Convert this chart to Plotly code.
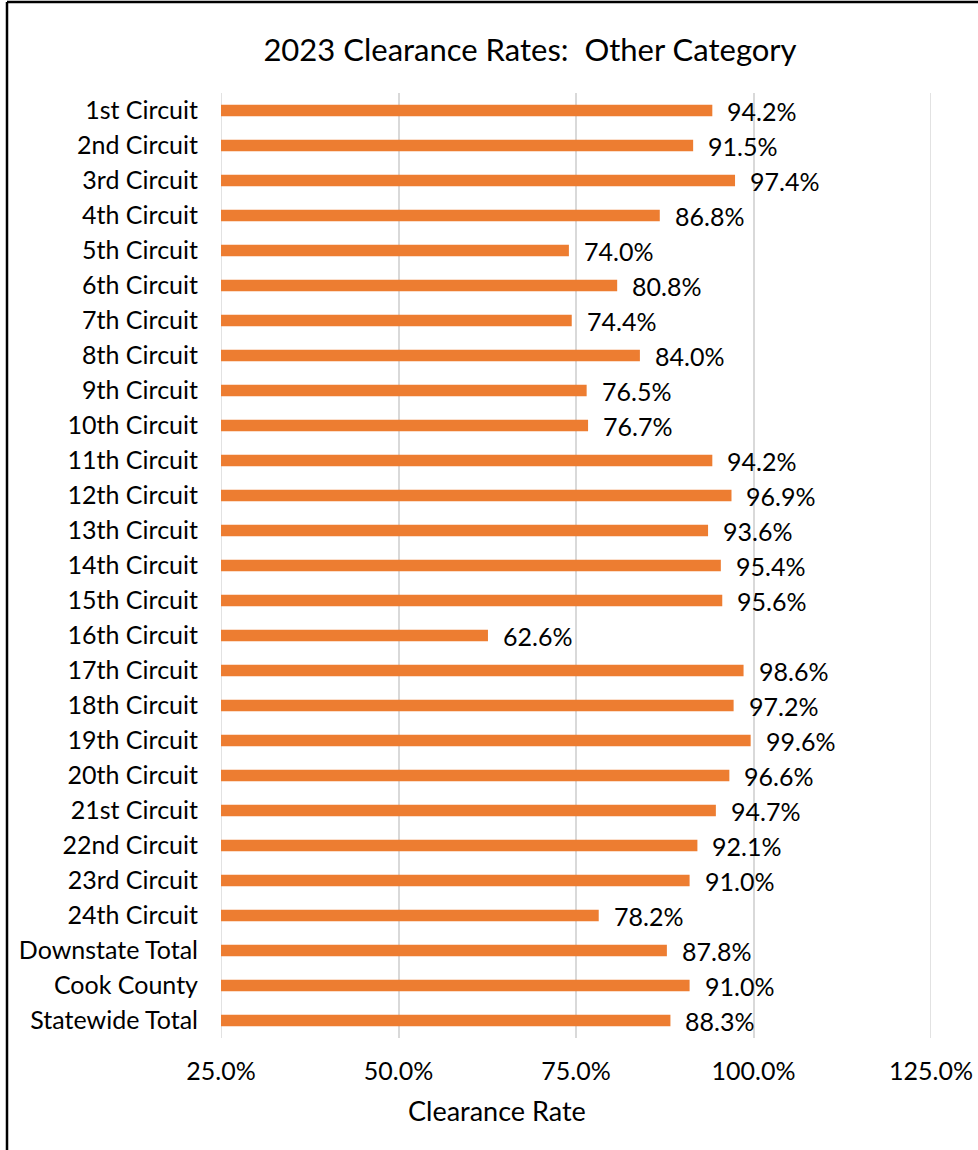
import plotly.graph_objects as go

categories = ["1st Circuit", "2nd Circuit", "3rd Circuit", "4th Circuit", "5th Circuit",
              "6th Circuit", "7th Circuit", "8th Circuit", "9th Circuit", "10th Circuit",
              "11th Circuit", "12th Circuit", "13th Circuit", "14th Circuit", "15th Circuit",
              "16th Circuit", "17th Circuit", "18th Circuit", "19th Circuit", "20th Circuit",
              "21st Circuit", "22nd Circuit", "23rd Circuit", "24th Circuit",
              "Downstate Total", "Cook County", "Statewide Total"]
rates = [94.2, 91.5, 97.4, 86.8, 74.0, 80.8, 74.4, 84.0, 76.5, 76.7,
         94.2, 96.9, 93.6, 95.4, 95.6, 62.6, 98.6, 97.2, 99.6, 96.6,
         94.7, 92.1, 91.0, 78.2, 87.8, 91.0, 88.3]
tick_vals = [25, 50, 75, 100, 125]

FONT = "Lato, 'Open Sans', sans-serif"
ORANGE = "#ED7D31"
GRID = "#D9D9D9"

fig = go.Figure()
fig.add_trace(go.Bar(
    x=rates, y=categories, orientation="h",
    marker=dict(color=ORANGE, line=dict(width=0)),
    width=0.33, hoverinfo="x+y",
))

for c, v in zip(categories, rates):
    fig.add_annotation(x=v, y=c, xref="x", yref="y", text=f"{v:.1f}%",
                       showarrow=False, xanchor="left", yanchor="middle",
                       xshift=13, yshift=0,
                       font=dict(family=FONT, size=25, color="#000000"))

# gridlines at the range ends (plotly skips them at the edges)
for t in (tick_vals[0], tick_vals[-1]):
    fig.add_shape(type="line", xref="x", yref="paper", x0=t, x1=t, y0=0, y1=1,
                  line=dict(color=GRID, width=1.5), layer="below")

L, R, T, B = 221, 47, 93, 112
W, H = 978, 1150
pw, ph = W - L - R, H - T - B

# axis title as annotation
fig.add_annotation(text="Clearance Rate", xref="paper", yref="paper",
                   x=(497 - L) / pw, y=(T + ph - 1110) / ph, showarrow=False,
                   xanchor="center", yanchor="middle",
                   font=dict(family=FONT, size=27, color="#000000"))

# chart border (left and top)
bx = (7 - L) / pw
by = (T + ph - 2) / ph
fig.add_shape(type="line", xref="paper", yref="paper", x0=bx, x1=bx, y0=by, y1=-0.3,
              line=dict(color="#000000", width=2.5))
fig.add_shape(type="line", xref="paper", yref="paper", x0=bx, x1=1.2, y0=by, y1=by,
              line=dict(color="#000000", width=2.5))

fig.update_layout(
    width=W, height=H,
    margin=dict(l=L, r=R, t=T, b=B, autoexpand=False),
    paper_bgcolor="white", plot_bgcolor="white",
    showlegend=False,
    title=dict(text="2023 Clearance Rates:  Other Category", x=530 / W, xanchor="center",
               y=1 - 50 / H, yanchor="middle", yref="container",
               font=dict(family=FONT, size=31, color="#000000")),
    xaxis=dict(range=[25, 125], tickvals=tick_vals, ticktext=[f"{t:.1f}%" for t in tick_vals],
               showgrid=True, gridcolor=GRID, gridwidth=1.5, zeroline=False, automargin=False,
               showline=False, ticks="outside", ticklen=11, tickcolor="rgba(0,0,0,0)",
               tickfont=dict(family=FONT, size=25, color="#000000"), fixedrange=True),
    yaxis=dict(autorange="reversed", showgrid=False, zeroline=False, showline=False,
               automargin=False,
               ticks="outside", ticklen=17, tickcolor="rgba(0,0,0,0)",
               tickfont=dict(family=FONT, size=25, color="#000000")),
    bargap=0.67,
)

fig.write_html("out.html", config={"displayModeBar": False},
               post_script="document.body.style.margin='0';document.body.style.overflow='hidden';")
